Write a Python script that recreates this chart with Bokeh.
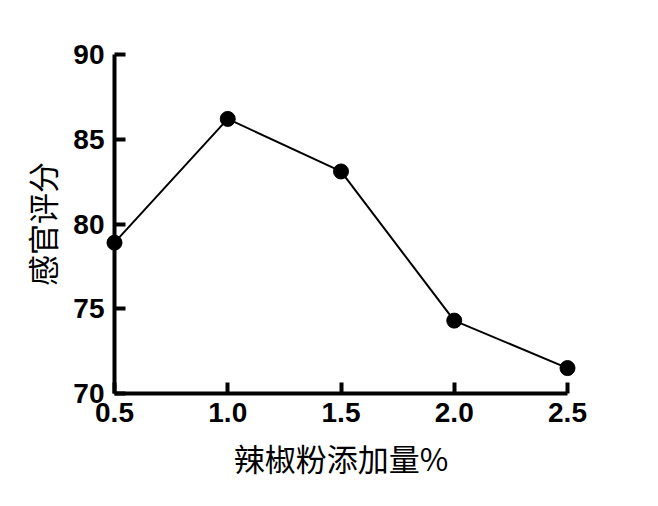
from bokeh.plotting import figure
from bokeh.models import FixedTicker, Range1d
from bokeh.embed import file_html
from bokeh.resources import INLINE

x_vals = [0.5, 1.0, 1.5, 2.0, 2.5]
y_vals = [78.9, 86.2, 83.1, 74.3, 71.5]
x_ticks = [0.5, 1.0, 1.5, 2.0, 2.5]
y_ticks = [70, 75, 80, 85, 90]
x_label = "辣椒粉添加量%"
y_label = "感官评分"

p = figure(width=640, height=490, output_backend="svg", toolbar_location=None,
           x_range=Range1d(0.5, 2.5), y_range=Range1d(70, 90),
           min_border_left=114, min_border_right=73, min_border_top=54, min_border_bottom=97)
p.outline_line_color = None
p.grid.visible = False
p.background_fill_color = "white"
p.border_fill_color = "white"

for ax in (p.xaxis[0], p.yaxis[0]):
    ax.axis_line_width = 4
    ax.axis_line_color = "black"
    ax.major_tick_line_width = 4
    ax.major_tick_line_color = "black"
    ax.major_tick_in = 11
    ax.major_tick_out = 0
    ax.minor_tick_line_color = None
    ax.major_label_text_font = "Liberation Sans"
    ax.major_label_text_font_style = "bold"
    ax.major_label_text_font_size = "28px"
    ax.major_label_text_color = "black"
    ax.axis_label_text_font = "Noto Sans CJK SC"
    ax.axis_label_text_font_style = "normal"
    ax.axis_label_text_font_size = "31px"
    ax.axis_label_text_color = "black"

p.xaxis[0].ticker = FixedTicker(ticks=x_ticks)
p.xaxis[0].major_label_overrides = {t: f"{t:.1f}" for t in x_ticks}
p.xaxis[0].axis_label = x_label
p.xaxis[0].major_label_standoff = 9
p.xaxis[0].axis_label_standoff = 10

p.yaxis[0].ticker = FixedTicker(ticks=y_ticks)
p.yaxis[0].axis_label = y_label
p.yaxis[0].major_label_standoff = 10
p.yaxis[0].axis_label_standoff = 6

p.line(x_vals, y_vals, line_color="black", line_width=2, level="overlay")
p.scatter(x_vals, y_vals, size=15, fill_color="black", line_color="black", level="overlay")

open("out.html", "w").write(file_html(p, INLINE))
